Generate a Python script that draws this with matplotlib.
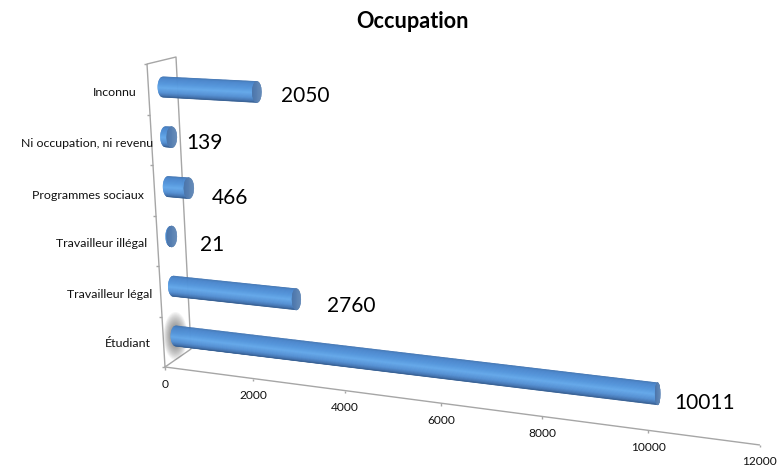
import matplotlib
matplotlib.use("Agg")
import matplotlib.pyplot as plt
import numpy as np
from matplotlib.collections import PolyCollection
from matplotlib.patches import Ellipse

plt.rcParams["font.family"] = ["Lato", "DejaVu Sans"]

# bottom to top, same order as the rows of the chart
categories = ["Étudiant", "Travailleur légal", "Travailleur illégal",
              "Programmes sociaux", "Ni occupation, ni revenu", "Inconnu"]
values = [10011, 2760, 21, 466, 139, 2050]
x_ticks = [0, 2000, 4000, 6000, 8000, 10000, 12000]

WIDTH, HEIGHT = 778, 467

# the picture is a perspective view, so everything goes through these by hand
AXIS_ORIGIN = (165.0, 367.0)
AXIS_SLOPE = 78.0 / 595.0
WALL_TOP_LEFT = (147.0, 64.0)
WALL_TOP_RIGHT = (176.0, 57.0)
WALL_BOTTOM_RIGHT = (191.0, 349.0)

# label placement was done by hand in the original, hence the per row numbers
label_right = [151, 152, 147, 144, 153, 137]
label_y = [343.5, 294.5, 243.5, 195.5, 143.5, 92.5]
value_gap = [17, 31, 28, 23, 14, 24]
value_drop = [9, 7, 9, 10, 6, 4]

BODY_STOPS = [0.0, 0.1, 0.35, 0.55, 0.78, 0.93, 1.0]
BODY_R = [66, 74, 84, 100, 84, 66, 52]
BODY_G = [116, 134, 150, 168, 144, 114, 92]
BODY_B = [176, 204, 220, 234, 212, 176, 142]


def depth_scale(value):
    k = value / 1000.0
    return 43.03 * k / (1 - 0.011 * k)


def axis_point(value):
    x = AXIS_ORIGIN[0] + depth_scale(value)
    return x, AXIS_ORIGIN[1] + depth_scale(value) * AXIS_SLOPE


def bar_ends(row, value):
    start_x = 176 - 2.6 * row
    start_y = 336 - 49.8 * row
    run = depth_scale(value) * (0.995 + 0.009 * row)
    slope = 0.12 - 0.0134 * row
    return start_x, start_y, start_x + run, start_y + run * slope


def body_color(s):
    t = (s + 1) / 2
    return (np.interp(t, BODY_STOPS, BODY_R) / 255,
            np.interp(t, BODY_STOPS, BODY_G) / 255,
            np.interp(t, BODY_STOPS, BODY_B) / 255)


def draw_cylinder(ax, row, value, zorder):
    start_x, start_y, end_x, end_y = bar_ends(row, value)
    ry = 10.3
    end_ry = 10.5 + 0.6 * value / 10011
    rx = 5.2
    end_rx = 5.2 - 2.6 * value / 10011

    edges = np.linspace(-1, 1, 41)
    polys, colors = [], []
    for s0, s1 in zip(edges[:-1], edges[1:]):
        left0 = start_x - rx * np.sqrt(1 - s0 ** 2)
        left1 = start_x - rx * np.sqrt(1 - s1 ** 2)
        polys.append([(left0, start_y + s0 * ry), (end_x, end_y + s0 * end_ry),
                      (end_x, end_y + s1 * end_ry), (left1, start_y + s1 * ry)])
        colors.append(body_color((s0 + s1) / 2))
    ax.add_collection(PolyCollection(polys, facecolors=colors, edgecolors=colors,
                                     linewidths=0.3, zorder=zorder))

    # end cap, a bit greyer than the body with a soft left to right shade
    cap_x = np.linspace(-1, 1, 21)
    polys, colors = [], []
    for x0, x1 in zip(cap_x[:-1], cap_x[1:]):
        h0 = end_ry * np.sqrt(1 - x0 ** 2)
        h1 = end_ry * np.sqrt(1 - x1 ** 2)
        polys.append([(end_x + x0 * end_rx, end_y - h0), (end_x + x1 * end_rx, end_y - h1),
                      (end_x + x1 * end_rx, end_y + h1), (end_x + x0 * end_rx, end_y + h0)])
        t = (x0 + x1 + 2) / 4
        colors.append((np.interp(t, [0, 1], [74, 100]) / 255,
                       np.interp(t, [0, 1], [116, 138]) / 255,
                       np.interp(t, [0, 1], [170, 184]) / 255))
    ax.add_collection(PolyCollection(polys, facecolors=colors, edgecolors=colors,
                                     linewidths=0.3, zorder=zorder + 0.1))
    return end_x, end_y


fig = plt.figure(figsize=(WIDTH / 100, HEIGHT / 100), dpi=100)
ax = fig.add_axes([0, 0, 1, 1])
ax.set_xlim(0, WIDTH)
ax.set_ylim(HEIGHT, 0)
ax.axis("off")

ax.text(413, 22, "Occupation", ha="center", va="center", fontsize=15.6, fontweight="bold", color="black")

# wall and floor lines
line_kw = dict(color="#a6a6a6", lw=1.0, zorder=1, solid_capstyle="butt")
ax.plot([AXIS_ORIGIN[0], WALL_TOP_LEFT[0], WALL_TOP_RIGHT[0], WALL_BOTTOM_RIGHT[0], AXIS_ORIGIN[0]],
        [AXIS_ORIGIN[1], WALL_TOP_LEFT[1], WALL_TOP_RIGHT[1], WALL_BOTTOM_RIGHT[1], AXIS_ORIGIN[1]], **line_kw)
end_x, end_y = axis_point(x_ticks[-1])
ax.plot([AXIS_ORIGIN[0], end_x], [AXIS_ORIGIN[1], end_y], **line_kw)

for tick in x_ticks:
    tx, ty = axis_point(tick)
    ax.plot([tx, tx], [ty, ty + 2.5], **line_kw)
    ax.text(tx, ty + 17, str(tick), ha="center", va="center", fontsize=8.6, color="#111111")

for i in range(len(categories) + 1):
    f = i / len(categories)
    wx = AXIS_ORIGIN[0] + (WALL_TOP_LEFT[0] - AXIS_ORIGIN[0]) * f
    wy = AXIS_ORIGIN[1] + (WALL_TOP_LEFT[1] - AXIS_ORIGIN[1]) * f
    ax.plot([wx - 3, wx], [wy, wy], **line_kw)

# glow behind the first bar only
sx, sy, _, _ = bar_ends(0, values[0])
for scale in np.linspace(1.0, 0.25, 16):
    ax.add_patch(Ellipse((sx - 0.5, sy), 24 * scale, 48 * scale, facecolor="#505050",
                         edgecolor="none", alpha=0.06, zorder=2))

for row, (name, value) in enumerate(zip(categories, values)):
    tip_x, tip_y = draw_cylinder(ax, row, value, 3 + row * 0.01)
    ax.text(label_right[row], label_y[row], name, ha="right", va="center", fontsize=8.9, color="#111111")
    ax.text(tip_x + value_gap[row], tip_y + value_drop[row], str(value), ha="left", va="center",
            fontsize=15, color="black", zorder=5)

fig.savefig("out.png", dpi=100)
plt.close(fig)
